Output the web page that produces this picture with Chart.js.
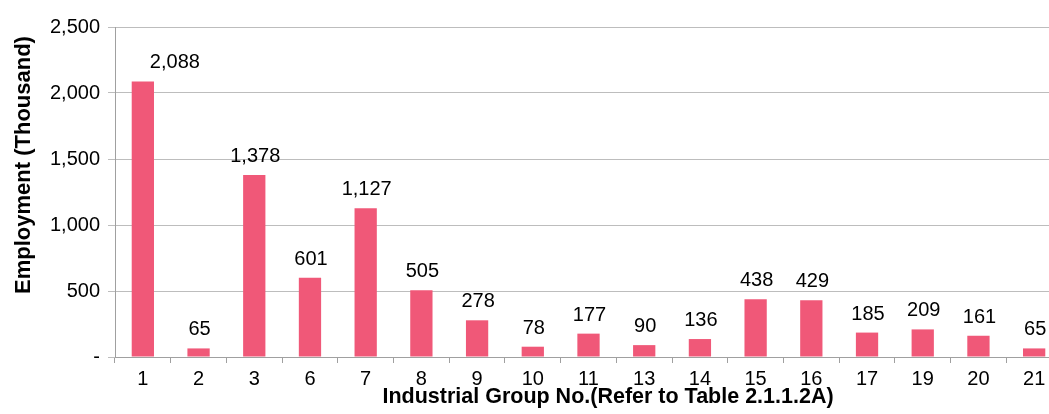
<!DOCTYPE html>
<html>
<head>
<meta charset="utf-8">
<script src="https://cdn.jsdelivr.net/npm/chart.js@4"></script>
<style>
html,body{margin:0;padding:0;background:#fff;overflow:hidden;width:1049px;height:414px;}
canvas{display:block;}
</style>
</head>
<body>
<canvas id="c" width="1064" height="414"></canvas>
<script>
const categories = ['1','2','3','6','7','8','9','10','11','13','14','15','16','17','19','20','21'];
const employment = [2088, 65, 1378, 601, 1127, 505, 278, 78, 177, 90, 136, 438, 429, 185, 209, 161, 65];
const yTicks = [0, 500, 1000, 1500, 2000, 2500];
const xTitle = 'Industrial Group No.(Refer to Table 2.1.1.2A)';
const yTitle = 'Employment (Thousand)';

const FONT = '"Liberation Sans", Arial, Helvetica, sans-serif';
const BAR = 'rgb(240,88,120)';

const labelPlugin = {
  id: 'valueLabels',
  afterDatasetsDraw(chart) {
    const ctx = chart.ctx;
    const meta = chart.getDatasetMeta(0);
    ctx.save();
    ctx.font = '20px ' + FONT;
    ctx.fillStyle = '#000';
    ctx.textAlign = 'center';
    ctx.textBaseline = 'alphabetic';
    meta.data.forEach((bar, i) => {
      const v = chart.data.datasets[0].data[i];
      const dx = i === 0 ? 32 : 1;
      ctx.fillText(v.toLocaleString('en-US'), bar.x + dx, bar.y - 13);
    });
    ctx.restore();
  }
};

const titlePlugin = {
  id: 'axisTitles',
  afterDraw(chart) {
    const ctx = chart.ctx;
    ctx.save();
    ctx.fillStyle = '#000';
    ctx.font = 'bold 21.5px ' + FONT;
    ctx.textAlign = 'center';
    ctx.textBaseline = 'alphabetic';
    ctx.fillText(xTitle, 608, 403);
    ctx.translate(24, 165);
    ctx.rotate(-Math.PI / 2);
    ctx.font = 'bold 22px ' + FONT;
    ctx.textBaseline = 'middle';
    ctx.fillText(yTitle, 0, 0);
    ctx.restore();
  }
};

new Chart(document.getElementById('c'), {
  type: 'bar',
  data: {
    labels: categories,
    datasets: [{
      data: employment,
      backgroundColor: BAR,
      borderWidth: 0,
      categoryPercentage: 1.0,
      barPercentage: 0.4
    }]
  },
  options: {
    responsive: false,
    animation: false,
    devicePixelRatio: 1,
    layout: { padding: { top: 27, right: 2, left: 0, bottom: 0 } },
    plugins: { legend: { display: false }, tooltip: { enabled: false } },
    scales: {
      x: {
        grid: { offset: true, drawOnChartArea: false, tickLength: 6, color: '#a0a0a0' },
        border: { color: '#a0a0a0', width: 1 },
        ticks: { font: { family: FONT, size: 20 }, color: '#000', padding: 4, maxRotation: 0, autoSkip: false },
        afterFit(s) { s.height = 57; }
      },
      y: {
        min: 0, max: 2500,
        afterBuildTicks(s) { s.ticks = yTicks.map(v => ({ value: v })); },
        grid: { color: '#bdbdbd', tickLength: 7, lineWidth: 1 },
        border: { color: '#a0a0a0', width: 1 },
        ticks: {
          font: { family: FONT, size: 20 }, color: '#000', padding: 8,
          callback: v => v === 0 ? '-' : Number(v).toLocaleString('en-US')
        },
        afterFit(s) { s.width = 115; }
      }
    }
  },
  plugins: [labelPlugin, titlePlugin]
});
</script>
</body>
</html>
